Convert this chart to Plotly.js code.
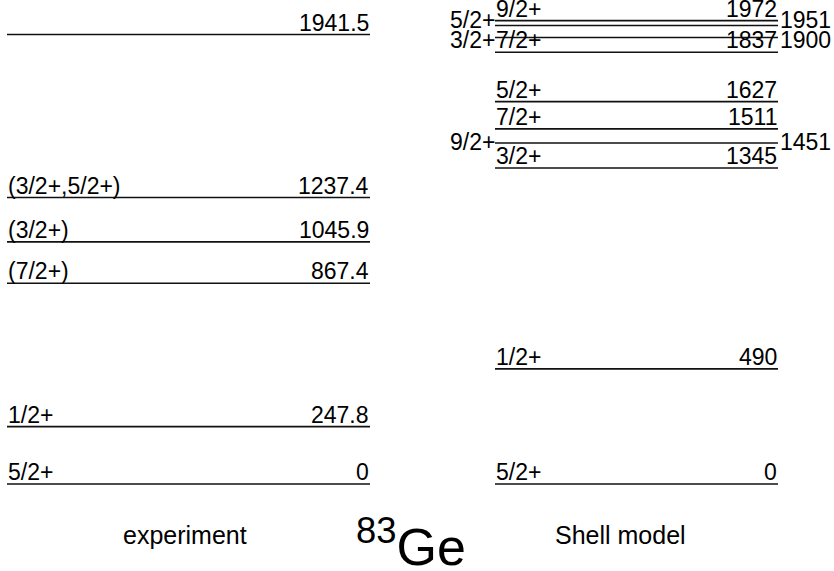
<!DOCTYPE html>
<html>
<head>
<meta charset="utf-8">
<script src="https://cdn.plot.ly/plotly-3.0.1.min.js"></script>
<style>html,body{margin:0;padding:0;background:#fff;}#chart{width:834px;height:571px;}</style>
</head>
<body>
<div id="chart"></div>
<script>
// ---- data ----
const expEnergies = [0, 247.8, 867.4, 1045.9, 1237.4, 1941.5];
const expEnergyLabels = ["0", "247.8", "867.4", "1045.9", "1237.4", "1941.5"];
const expSpins = ["5/2+", "1/2+", "(7/2+)", "(3/2+)", "(3/2+,5/2+)", ""];

const smEnergies = [0, 490, 1345, 1451, 1511, 1627, 1837, 1900, 1951, 1972];
const smEnergyLabels = ["0", "490", "1345", "1451", "1511", "1627", "1837", "1900", "1951", "1972"];
const smSpins = ["5/2+", "1/2+", "3/2+", "9/2+", "7/2+", "5/2+", "7/2+", "3/2+", "5/2+", "9/2+"];
// labels placed beside the line (left/right) instead of above it
const smSideLabel = [false, false, false, true, false, false, false, true, true, false];

const columnTitles = ["experiment", "Shell model"];
const nucleusTitle = "<sup>83</sup>Ge";

// ---- layout constants ----
const EXP_X = [7, 370];
const SM_X = [495, 778];
const FONT = "Liberation Sans, Arial, Helvetica, sans-serif";
const LEVEL_FONT = {family: FONT, size: 23, color: "#000"};
const SIDE_FONT = {family: FONT, size: 23, color: "#000"};
const LINE = {color: "#111", width: 1.6};
// vertical nudges (px) for side labels so that close-lying labels do not collide
const SIDE_NUDGE = {1451: 1, 1900: -2, 1951: 6};

const traces = [];
const annotations = [];

expEnergies.forEach((e, i) => {
  traces.push({x: EXP_X, y: [e, e], mode: "lines", line: LINE, xaxis: "x", yaxis: "y", hoverinfo: "skip", showlegend: false});
  if (expSpins[i]) annotations.push({x: EXP_X[0], y: e, xref: "x", yref: "y", text: expSpins[i], showarrow: false, xanchor: "left", yanchor: "bottom", yshift: -2, font: LEVEL_FONT, borderpad: 0});
  annotations.push({x: EXP_X[1], y: e, xref: "x", yref: "y", text: expEnergyLabels[i], showarrow: false, xanchor: "right", yanchor: "bottom", yshift: -2, font: LEVEL_FONT, borderpad: 0});
});

smEnergies.forEach((e, i) => {
  traces.push({x: SM_X, y: [e, e], mode: "lines", line: LINE, xaxis: "x", yaxis: "y2", hoverinfo: "skip", showlegend: false});
  if (smSideLabel[i]) {
    const ys = SIDE_NUDGE[e] || 0;
    annotations.push({x: SM_X[0], y: e, xref: "x", yref: "y2", text: smSpins[i], showarrow: false, xanchor: "right", yanchor: "middle", xshift: 1, yshift: ys, font: SIDE_FONT, borderpad: 0});
    annotations.push({x: SM_X[1], y: e, xref: "x", yref: "y2", text: smEnergyLabels[i], showarrow: false, xanchor: "left", yanchor: "middle", xshift: 1, yshift: ys, font: SIDE_FONT, borderpad: 0});
  } else {
    annotations.push({x: SM_X[0], y: e, xref: "x", yref: "y2", text: smSpins[i], showarrow: false, xanchor: "left", yanchor: "bottom", yshift: -2, font: LEVEL_FONT, borderpad: 0});
    annotations.push({x: SM_X[1], y: e, xref: "x", yref: "y2", text: smEnergyLabels[i], showarrow: false, xanchor: "right", yanchor: "bottom", yshift: -2, font: LEVEL_FONT, borderpad: 0});
  }
});

annotations.push({x: 185, y: 535, xref: "x", yref: "paper", text: columnTitles[0], showarrow: false, xanchor: "center", yanchor: "middle", font: {family: FONT, size: 25, color: "#000"}});
annotations.push({x: 620, y: 535, xref: "x", yref: "paper", text: columnTitles[1], showarrow: false, xanchor: "center", yanchor: "middle", font: {family: FONT, size: 25, color: "#000"}});
annotations.push({x: 411, y: 543, xref: "x", yref: "paper", text: nucleusTitle, showarrow: false, xanchor: "center", yanchor: "middle", font: {family: FONT, size: 52, color: "#000"}});

// convert pixel-y for paper annotations
annotations.forEach(a => { if (a.yref === "paper") a.y = 1 - a.y / 571; });

const layout = {
  width: 834, height: 571,
  margin: {l: 0, r: 0, t: 0, b: 0, pad: 0},
  paper_bgcolor: "#fff", plot_bgcolor: "#fff",
  xaxis: {range: [0, 834], visible: false, fixedrange: true},
  yaxis: {range: [-375.8, 2090.7], visible: false, fixedrange: true},
  yaxis2: {range: [-370.2, 2059.6], visible: false, overlaying: "y", fixedrange: true},
  annotations: annotations,
  showlegend: false
};

Plotly.newPlot("chart", traces, layout, {staticPlot: true, displayModeBar: false});
</script>
</body>
</html>
